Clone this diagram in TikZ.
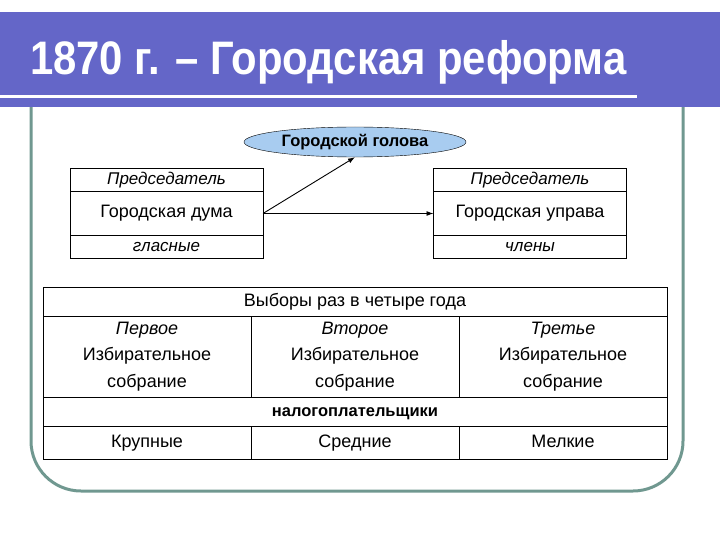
\documentclass[tikz,border=0pt]{standalone}
\usepackage{fontspec}
\setmainfont{Liberation Sans}
\usetikzlibrary{arrows.meta,positioning,shapes.geometric}
\definecolor{band}{RGB}{100,102,200}
\definecolor{rim}{RGB}{112,152,144}
\definecolor{mayorfill}{RGB}{168,204,240}

\begin{document}
\begin{tikzpicture}[x=1pt, y=-1pt, node distance=0pt,
      cell/.style={draw, line width=0.9pt, inner sep=0pt, outer sep=0pt, font=\fontsize{18}{26.5}\selectfont},
      line/.style={text height=13pt, text depth=4pt},
      head/.style={cell, line, minimum width=193pt, minimum height=23pt, font=\itshape\fontsize{17}{19}\selectfont},
      wide/.style={cell, line, minimum width=624pt, minimum height=29pt},
      col/.style={cell, minimum width=208pt, align=center}]
    \useasboundingbox (0,0) rectangle (720,540);
    % frame and title band
    \draw[rim, line width=3pt, rounded corners=50pt] (31,40) rectangle (683,491);
    \fill[band] (0,12) rectangle (720,107);
    \draw[white, line width=3pt] (0,97) -- (637,97);
    \node[anchor=base west, text=white, inner sep=0pt, font=\bfseries\fontsize{47}{50}\selectfont] (title) at (30,75)
      {\scalebox{0.89}[1]{1870 г. – Городская реформа}};

    \node[ellipse, draw, fill=mayorfill, minimum width=222pt, minimum height=30pt, inner sep=0pt,
      font=\bfseries\fontsize{16.5}{18}\selectfont] (mayor) at (355,142) {Городской голова};

    \node[head] (dumaHead) at (166.5,180) {Председатель};
    \node[cell, line, minimum width=193pt, minimum height=44pt, below=of dumaHead] (duma) {Городская дума};
    \node[head, below=of duma] (dumaFoot) {гласные};

    \node[head] (upravaHead) at (530,180) {Председатель};
    \node[cell, line, minimum width=193pt, minimum height=44pt, below=of upravaHead] (uprava) {Городская управа};
    \node[head, below=of uprava] (upravaFoot) {члены};

    \draw[-{Latex[length=7pt,width=5pt]}, line width=0.9pt] (duma.east) -- (uprava.west);
    \draw[-{Latex[length=7pt,width=5pt]}, line width=0.9pt] (duma.east) -- (mayor.south);

    % elections table
    \node[wide] (elect) at (355,301.5) {Выборы раз в четыре года};
    \node[col, minimum height=81pt, anchor=north west] (curia1) at (elect.south west)
      {{\itshape Первое}\\Избирательное\\собрание};
    \node[col, minimum height=81pt, right=of curia1] (curia2) {{\itshape Второе}\\Избирательное\\собрание};
    \node[col, minimum height=81pt, right=of curia2] (curia3) {{\itshape Третье}\\Избирательное\\собрание};
    \node[wide, anchor=north west, font=\bfseries\fontsize{16.5}{18}\selectfont] (tax) at (curia1.south west) {налогоплательщики};
    \node[col, line, minimum height=33pt, anchor=north west] (big) at (tax.south west) {Крупные};
    \node[col, line, minimum height=33pt, right=of big] (mid) {Средние};
    \node[col, line, minimum height=33pt, right=of mid] (small) {Мелкие};
  \end{tikzpicture}
\end{document}
